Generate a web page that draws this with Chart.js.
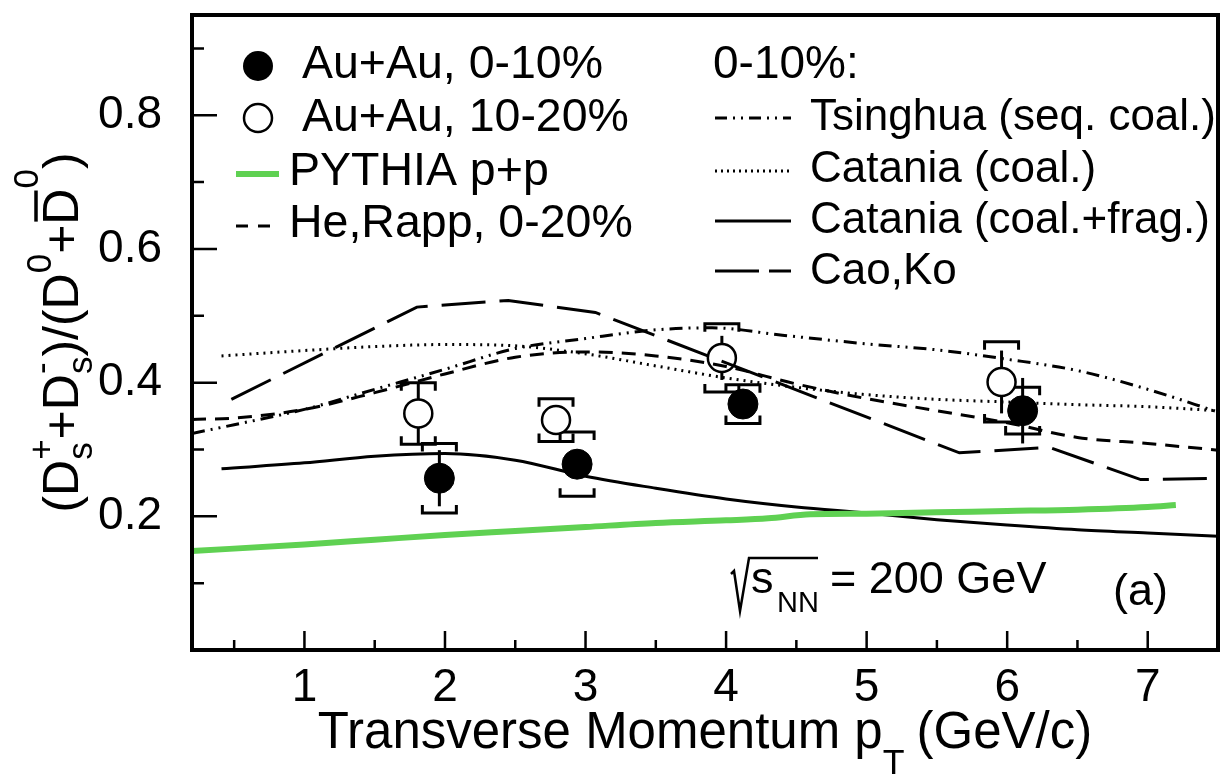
<!DOCTYPE html>
<html><head><meta charset="utf-8">
<script src="https://cdn.jsdelivr.net/npm/chart.js@4/dist/chart.umd.min.js"></script>
<style>html,body{margin:0;padding:0;background:#fff;overflow:hidden;}canvas{display:block;}</style>
</head><body><canvas id="c" width="1223" height="778" style="width:1223px;height:778px;"></canvas>
<script>
// ---------- data ----------
const xMin = 0.2, xMax = 7.5, yMin = 0, yMax = 0.95;
const xTickValues = [1, 2, 3, 4, 5, 6, 7];
const xTickLabels = ['1', '2', '3', '4', '5', '6', '7'];
const xMinorTicks = [0.5, 1.5, 2.5, 3.5, 4.5, 5.5, 6.5];
const yTickValues = [0.2, 0.4, 0.6, 0.8];
const yTickLabels = ['0.2', '0.4', '0.6', '0.8'];
const yMinorTicks = [0.1, 0.3, 0.5, 0.7, 0.9];

// Au+Au 0-10% (filled)
const central_pt = [1.96, 2.94, 4.12, 6.11];
const central_val = [0.257, 0.278, 0.368, 0.358];
const central_stat = [0.042, 0.022, 0.015, 0.049];
const central_sys = [0.052, 0.048, 0.029, 0.035];
// Au+Au 10-20% (open)
const mid_pt = [1.81, 2.79, 3.97, 5.96];
const mid_val = [0.354, 0.344, 0.437, 0.401];
const mid_stat = [0.046, 0.02, 0.033, 0.047];
const mid_sys = [0.046, 0.032, 0.051, 0.06];

// PYTHIA p+p
const pythia_pt = [0.2, 1.0, 1.5, 2.0, 2.5, 3.0, 3.5, 4.0, 4.3, 4.6, 5.0, 5.5, 6.0, 6.5, 7.0, 7.2];
const pythia_val = [0.148, 0.158, 0.165, 0.172, 0.178, 0.184, 0.19, 0.194, 0.197, 0.203, 0.204, 0.206, 0.208, 0.21, 0.214, 0.217];
// He, Rapp 0-20%
const herapp_pt = [0.2, 0.5, 1.0, 1.5, 2.0, 2.5, 3.0, 3.5, 4.0, 4.5, 5.0, 5.5, 6.0, 6.5, 7.0, 7.5];
const herapp_val = [0.345, 0.347, 0.36, 0.385, 0.413, 0.438, 0.446, 0.44, 0.424, 0.398, 0.376, 0.358, 0.34, 0.318, 0.309, 0.299];
// Tsinghua (seq. coal.)
const tsinghua_pt = [0.2, 0.5, 1.0, 1.5, 2.0, 2.5, 3.0, 3.5, 3.9, 4.4, 5.0, 5.5, 6.0, 6.5, 7.0, 7.5];
const tsinghua_val = [0.324, 0.337, 0.36, 0.39, 0.42, 0.451, 0.466, 0.479, 0.482, 0.471, 0.458, 0.449, 0.435, 0.418, 0.39, 0.356];
// Catania (coal.)
const catcoal_pt = [0.41, 1.0, 1.5, 2.0, 2.5, 3.0, 3.5, 4.0, 4.5, 5.0, 5.5, 6.0, 6.5, 7.0, 7.5];
const catcoal_val = [0.44, 0.448, 0.454, 0.457, 0.455, 0.443, 0.425, 0.407, 0.393, 0.382, 0.375, 0.371, 0.367, 0.364, 0.358];
// Catania (coal.+frag.)
const catfrag_pt = [0.41, 1.0, 1.5, 2.0, 2.5, 3.0, 3.5, 4.0, 4.5, 5.0, 5.5, 6.0, 6.5, 7.0, 7.5];
const catfrag_val = [0.271, 0.28, 0.29, 0.294, 0.284, 0.26, 0.242, 0.226, 0.214, 0.205, 0.195, 0.187, 0.18, 0.175, 0.17];
// Cao, Ko
const caoko_pt = [0.48, 1.8, 2.45, 3.07, 5.66, 6.3, 6.95, 7.5];
const caoko_val = [0.375, 0.513, 0.523, 0.505, 0.295, 0.303, 0.255, 0.257];

// ---------- helpers ----------
const FONT = '"Liberation Sans", Arial, Helvetica, sans-serif';
const f = (s) => s + 'px ' + FONT;
const pts = (xs, ys) => xs.map((x, i) => ({ x: x, y: ys[i] }));

function drawRich(ctx, parts, fs, x0, y0, measureOnly) {
  let x = x0;
  for (const p of parts) {
    if (p.n !== undefined) {
      ctx.font = f(fs);
      const w = ctx.measureText(p.n).width;
      if (!measureOnly) {
        ctx.fillText(p.n, x, y0);
        if (p.bar) {
          ctx.save(); ctx.lineWidth = fs * 0.07; ctx.setLineDash([]); ctx.beginPath();
          ctx.moveTo(x + fs * 0.06, y0 - fs * 0.84); ctx.lineTo(x + w - fs * 0.04, y0 - fs * 0.84); ctx.stroke(); ctx.restore();
        }
      }
      x += w;
    } else {
      const sfs = fs * (p.scale || 0.7);
      ctx.font = f(sfs);
      let w = 0;
      if (p.sup !== undefined) { if (!measureOnly) ctx.fillText(p.sup, x, y0 - fs * (p.up || 0.45)); w = Math.max(w, ctx.measureText(p.sup).width); }
      if (p.sub !== undefined) { if (!measureOnly) ctx.fillText(p.sub, x, y0 + fs * (p.down || 0.25)); w = Math.max(w, ctx.measureText(p.sub).width); }
      x += w + (p.gap || 0);
    }
  }
  return x - x0;
}

const errorBars = {
  id: 'errorBars',
  beforeDatasetsDraw(chart) {
    const ctx = chart.ctx, xs = chart.scales.x, ys = chart.scales.y;
    ctx.save();
    ctx.setLineDash([]);
    ctx.strokeStyle = '#000'; ctx.lineWidth = 3;
    const groups = [[central_pt, central_val, central_stat, central_sys], [mid_pt, mid_val, mid_stat, mid_sys]];
    for (const [px, pv, ps, psys] of groups) {
      for (let i = 0; i < px.length; i++) {
        const X = xs.getPixelForValue(px[i]);
        const yh = ys.getPixelForValue(pv[i] + ps[i]), yl = ys.getPixelForValue(pv[i] - ps[i]);
        ctx.beginPath(); ctx.moveTo(X, yh); ctx.lineTo(X, yl); ctx.stroke();
        const sh = ys.getPixelForValue(pv[i] + psys[i]), sl = ys.getPixelForValue(pv[i] - psys[i]);
        const hw = 17, leg = 8;
        ctx.beginPath();
        ctx.moveTo(X - hw, sh + leg); ctx.lineTo(X - hw, sh); ctx.lineTo(X + hw, sh); ctx.lineTo(X + hw, sh + leg);
        ctx.moveTo(X - hw, sl - leg); ctx.lineTo(X - hw, sl); ctx.lineTo(X + hw, sl); ctx.lineTo(X + hw, sl - leg);
        ctx.stroke();
      }
    }
    ctx.restore();
  }
};

const decor = {
  id: 'decor',
  afterDraw(chart) {
    const ctx = chart.ctx, xs = chart.scales.x, ys = chart.scales.y;
    const L = xs.getPixelForValue(xMin), R = xs.getPixelForValue(xMax);
    const T = ys.getPixelForValue(yMax), B = ys.getPixelForValue(yMin);
    ctx.save();
    ctx.setLineDash([]);
    ctx.strokeStyle = '#000'; ctx.fillStyle = '#000';
    // ticks
    ctx.lineWidth = 2.5;
    ctx.beginPath();
    for (const v of xTickValues) { const X = xs.getPixelForValue(v); ctx.moveTo(X, B); ctx.lineTo(X, B - 19); }
    for (const v of xMinorTicks) { const X = xs.getPixelForValue(v); ctx.moveTo(X, B); ctx.lineTo(X, B - 10); }
    for (const v of yTickValues) { const Y = ys.getPixelForValue(v); ctx.moveTo(L, Y); ctx.lineTo(L + 25, Y); }
    for (const v of yMinorTicks) { const Y = ys.getPixelForValue(v); ctx.moveTo(L, Y); ctx.lineTo(L + 12, Y); }
    ctx.stroke();
    // frame
    ctx.lineWidth = 4;
    ctx.strokeRect(L, T, R - L, B - T);

    // legend left
    ctx.textBaseline = 'alphabetic'; ctx.textAlign = 'left';
    ctx.beginPath(); ctx.arc(258, 66, 15, 0, Math.PI * 2); ctx.fill();
    ctx.lineWidth = 2.5; ctx.beginPath(); ctx.arc(258, 118, 14, 0, Math.PI * 2); ctx.stroke();
    ctx.save(); ctx.strokeStyle = '#5fd152'; ctx.lineWidth = 6; ctx.beginPath(); ctx.moveTo(236, 174); ctx.lineTo(279, 174); ctx.stroke(); ctx.restore();
    ctx.save(); ctx.lineWidth = 3; ctx.setLineDash([12, 10]); ctx.beginPath(); ctx.moveTo(236, 226); ctx.lineTo(272, 226); ctx.stroke(); ctx.restore();
    ctx.font = f(46.5);
    ctx.fillText(' Au+Au, 0-10%', 289, 78);
    ctx.fillText(' Au+Au, 10-20%', 289, 131);
    ctx.fillText('PYTHIA p+p', 289, 185);
    ctx.fillText('He,Rapp, 0-20%', 289, 237);

    // legend right
    ctx.font = f(46);
    ctx.fillText('0-10%:', 713, 78);
    ctx.font = f(44);
    ctx.fillText('Tsinghua (seq. coal.)', 810, 130);
    ctx.fillText('Catania (coal.)', 810, 182);
    ctx.fillText('Catania (coal.+frag.)', 810, 233);
    ctx.fillText('Cao,Ko', 810, 284);
    ctx.lineWidth = 3;
    const samples = [[[12, 6, 2, 6, 2, 6], 118], [[2, 4], 171], [[], 221], [[44, 10, 22, 100], 271]];
    for (const [d, y] of samples) { ctx.save(); ctx.setLineDash(d); ctx.beginPath(); ctx.moveTo(715, y); ctx.lineTo(791, y); ctx.stroke(); ctx.restore(); }

    // sqrt(s_NN) = 200 GeV
    ctx.lineWidth = 2.5;
    ctx.beginPath(); ctx.moveTo(731, 574); ctx.lineTo(734, 571); ctx.lineTo(740, 611); ctx.lineTo(749, 558); ctx.lineTo(818, 558); ctx.stroke();
    ctx.font = f(45); ctx.fillText('s', 751, 593);
    ctx.font = f(29); ctx.fillText('NN', 777, 612);
    ctx.font = f(45); ctx.fillText('= 200 GeV', 830, 593);
    ctx.fillText('(a)', 1113, 605);

    // x title
    const xParts = [{ n: 'Transverse Momentum p' }, { sub: 'T', down: 0.5, gap: 12 }, { n: '(GeV/c)' }];
    const xfs = 51;
    const xw = drawRich(ctx, xParts, xfs, 0, 0, true);
    drawRich(ctx, xParts, xfs, (L + R) / 2 - xw / 2, 748);

    // y title
    const yParts = [
      { n: '(D' }, { sup: '+', sub: 's', up: 0.5, down: 0.28 }, { n: '+D' }, { sup: '-', sub: 's', up: 0.5, down: 0.28 },
      { n: ')/(D' }, { sup: '0', up: 0.55 }, { n: '+' }, { n: 'D', bar: true }, { sup: '0', up: 0.8 }, { n: ')' }
    ];
    const yfs = 50;
    const yw = drawRich(ctx, yParts, yfs, 0, 0, true);
    ctx.translate(78, (T + B) / 2);
    ctx.rotate(-Math.PI / 2);
    drawRich(ctx, yParts, yfs, -yw / 2, 0);
    ctx.restore();
  }
};

const lineDS = (label, xs, ys, color, width, dash, mode) => ({
  label, data: pts(xs, ys), borderColor: color, borderWidth: width, borderDash: dash,
  pointRadius: 0, fill: false, showLine: true, order: 1,
  cubicInterpolationMode: mode === 'linear' ? 'default' : 'monotone', tension: mode === 'linear' ? 0 : 0.4
});

const zeroPad = (s) => { s.paddingTop = 0; s.paddingBottom = 0; s.paddingLeft = 0; s.paddingRight = 0; };

new Chart(document.getElementById('c'), {
  type: 'line',
  data: {
    datasets: [
      { label: 'Au+Au, 10-20%', data: pts(mid_pt, mid_val), showLine: false, pointRadius: 14, pointBorderWidth: 2.5,
        pointBackgroundColor: '#fff', pointBorderColor: '#000', order: 10 },
      { label: 'Au+Au, 0-10%', data: pts(central_pt, central_val), showLine: false, pointRadius: 15, pointBorderWidth: 1,
        pointBackgroundColor: '#000', pointBorderColor: '#000', order: 9 },
      lineDS('PYTHIA p+p', pythia_pt, pythia_val, '#5fd152', 6, [], 'smooth'),
      lineDS('He,Rapp, 0-20%', herapp_pt, herapp_val, '#000', 3, [14, 9], 'smooth'),
      lineDS('Tsinghua (seq. coal.)', tsinghua_pt, tsinghua_val, '#000', 3, [13, 6, 2, 6, 2, 6], 'smooth'),
      lineDS('Catania (coal.)', catcoal_pt, catcoal_val, '#000', 3, [2, 5], 'smooth'),
      lineDS('Catania (coal.+frag.)', catfrag_pt, catfrag_val, '#000', 3, [], 'smooth'),
      lineDS('Cao,Ko', caoko_pt, caoko_val, '#000', 3, [44, 14], 'linear')
    ]
  },
  options: {
    responsive: false, animation: false, devicePixelRatio: 1,
    layout: { autoPadding: false, padding: { left: 0, top: 15, right: 5, bottom: 0 } },
    plugins: { legend: { display: false }, tooltip: { enabled: false } },
    scales: {
      x: {
        type: 'linear', min: xMin, max: xMax,
        grid: { display: false }, border: { display: false },
        afterBuildTicks: (s) => { s.ticks = xTickValues.map(v => ({ value: v })); },
        afterFit: (s) => { s.height = 128; zeroPad(s); },
        ticks: { callback: (v) => xTickLabels[xTickValues.indexOf(v)], font: { size: 46, family: FONT, lineHeight: 1 }, color: '#000', padding: 7, maxRotation: 0, autoSkip: false }
      },
      y: {
        type: 'linear', min: yMin, max: yMax,
        grid: { display: false }, border: { display: false },
        afterBuildTicks: (s) => { s.ticks = yTickValues.map(v => ({ value: v })); },
        afterFit: (s) => { s.width = 192; zeroPad(s); },
        ticks: { callback: (v) => yTickLabels[yTickValues.findIndex(t => Math.abs(t - v) < 1e-9)], font: { size: 46, family: FONT, lineHeight: 1 }, color: '#000', padding: 22 }
      }
    }
  },
  plugins: [errorBars, decor]
});
</script>
</body></html>
